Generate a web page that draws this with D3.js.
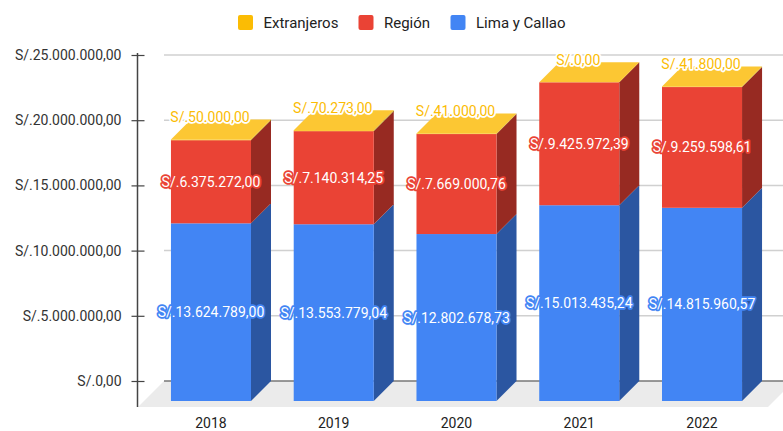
<!DOCTYPE html>
<html>
<head>
<meta charset="utf-8">
<script src="https://cdn.jsdelivr.net/npm/d3@7"></script>
<style>
  html, body { margin: 0; padding: 0; background: #fff; }
  svg { display: block; font-family: Roboto, "Noto Sans", Arial, sans-serif; }
</style>
</head>
<body>
<svg id="chart" width="783" height="431"></svg>
<script>
// ---- Data ----
const years = ["2018", "2019", "2020", "2021", "2022"];
const limaCallao = [13624789.00, 13553779.04, 12802678.73, 15013435.24, 14815960.57];
const region = [6375272.00, 7140314.25, 7669000.76, 9425972.39, 9259598.61];
const extranjeros = [50000.00, 70273.00, 41000.00, 0.00, 41800.00];
const yTicks = [0, 5000000, 10000000, 15000000, 20000000, 25000000];
const seriesNames = ["Lima y Callao", "Región", "Extranjeros"];
const legendOrder = ["Extranjeros", "Región", "Lima y Callao"];

// ---- Styles ----
const colors = {
  "Lima y Callao": { front: "#4285F4", side: "#2B56A1", top: "#5B95F5" },
  "Región": { front: "#EA4335", side: "#972A22", top: "#EE5E52" },
  "Extranjeros": { front: "#FBBC04", side: "#A37A03", top: "#FCC733" }
};
const depth = 20;

const locale = d3.formatLocale({ decimal: ",", thousands: ".", grouping: [3], currency: ["S/.", ""] });
const fmt = locale.format("$,.2f");

const svg = d3.select("#chart");

// back-plane scale
const y = d3.scaleLinear().domain([0, 25000000]).range([381, 55]);
const x = d3.scaleBand().domain(years).range([149.6, 763.4]).paddingInner(0.348).paddingOuter(0.174);

const yf = v => y(v) + depth; // front plane

// ---- Floor ----
const floorG = svg.append("g");
floorG.append("path")
  .attr("d", `M${164},${y(0)} L${794},${y(0)} L${794 - 26},${y(0) + 26} L${138},${y(0) + 26} Z`)
  .attr("fill", "#ebebeb");

// ---- Gridlines (back wall) ----
svg.append("g").selectAll("line").data(yTicks).join("line")
  .attr("x1", 164).attr("x2", 783)
  .attr("y1", d => y(d)).attr("y2", d => y(d))
  .attr("stroke", d => d === 0 ? "#777" : "#d0d0d0")
  .attr("stroke-width", d => d === 0 ? 1.5 : 1.5);

// ---- Y axis ----
const axisX = 137.5;
const yAxis = d3.axisLeft(y).tickValues(yTicks).tickFormat(fmt).tickSize(6).tickPadding(10);
const ax = svg.append("g").attr("transform", `translate(${axisX},0)`).call(yAxis);
ax.select(".domain").remove();
ax.selectAll(".tick line").attr("stroke", "#444").attr("stroke-width", 1.2);
ax.selectAll(".tick").append("line").attr("x1", 0).attr("x2", 7).attr("stroke", "#444").attr("stroke-width", 1.2);
ax.selectAll(".tick text").attr("font-size", 14).attr("fill", "#333").attr("font-family", "Roboto, Arial, sans-serif");
svg.append("line").attr("x1", axisX).attr("x2", axisX).attr("y1", 53).attr("y2", 407)
  .attr("stroke", "#444").attr("stroke-width", 1.5);

// ---- Stacked 3D bars ----
const rows = years.map((yr, i) => ({ year: yr, "Lima y Callao": limaCallao[i], "Región": region[i], "Extranjeros": extranjeros[i] }));
const stack = d3.stack().keys(seriesNames)(rows);

const barsG = svg.append("g");
years.forEach((yr, i) => {
  const x0 = x(yr), x1 = x0 + x.bandwidth();
  const g = barsG.append("g");
  stack.forEach(layer => {
    const key = layer.key;
    const [b, t] = layer[i];
    const c = colors[key];
    // side face
    g.append("path")
      .attr("d", `M${x1},${yf(b)} L${x1 + depth},${yf(b) - depth} L${x1 + depth},${yf(t) - depth} L${x1},${yf(t)} Z`)
      .attr("fill", c.side);
    // front face
    g.append("rect")
      .attr("x", x0).attr("y", yf(t))
      .attr("width", x1 - x0).attr("height", Math.max(0, yf(b) - yf(t)))
      .attr("fill", c.front);
  });
  // top face
  const topLayer = stack[stack.length - 1];
  const T = topLayer[i][1];
  g.append("path")
    .attr("d", `M${x0},${yf(T)} L${x0 + depth},${yf(T) - depth} L${x1 + depth},${yf(T) - depth} L${x1},${yf(T)} Z`)
    .attr("fill", colors[topLayer.key].top);
});

// ---- Data labels ----
const labelsG = svg.append("g").attr("font-size", 14).attr("text-anchor", "middle")
  .attr("font-family", "Roboto, Arial, sans-serif");
years.forEach((yr, i) => {
  const cx = x(yr) + x.bandwidth() / 2;
  stack.forEach(layer => {
    const key = layer.key;
    const [b, t] = layer[i];
    const v = t - b;
    let ly, fill, halo, lx = cx;
    if (key === "Extranjeros") {
      ly = yf(t) - 22.5; fill = colors[key].front; halo = "#fff"; lx = cx - 1;
    } else {
      ly = (yf(b) + yf(t)) / 2; fill = "#fff"; halo = colors[key].front;
    }
    labelsG.append("text")
      .attr("x", lx).attr("y", ly).attr("dy", "0.36em")
      .attr("fill", fill).attr("stroke", halo).attr("stroke-width", 3.5)
      .attr("stroke-linejoin", "round").attr("paint-order", "stroke")
      .text(fmt(v));
  });
});

// ---- X axis labels ----
svg.append("g").selectAll("text").data(years).join("text")
  .attr("x", d => x(d) + x.bandwidth() / 2)
  .attr("y", 423).attr("dy", "0.36em")
  .attr("text-anchor", "middle").attr("font-size", 14).attr("fill", "#222")
  .text(d => d);

// ---- Legend ----
const legendItems = [
  { name: "Extranjeros", x: 238 },
  { name: "Región", x: 358.5 },
  { name: "Lima y Callao", x: 450.5 }
];
const lg = svg.append("g");
legendOrder.forEach((name, k) => {
  const it = legendItems.find(d => d.name === name);
  lg.append("rect").attr("x", it.x).attr("y", 15).attr("width", 15).attr("height", 15)
    .attr("rx", 2).attr("fill", colors[name].front);
  lg.append("text").attr("x", it.x + 25.5).attr("y", 22.5).attr("dy", "0.36em")
    .attr("font-size", 15).attr("fill", "#222").text(name);
});
</script>
</body>
</html>
